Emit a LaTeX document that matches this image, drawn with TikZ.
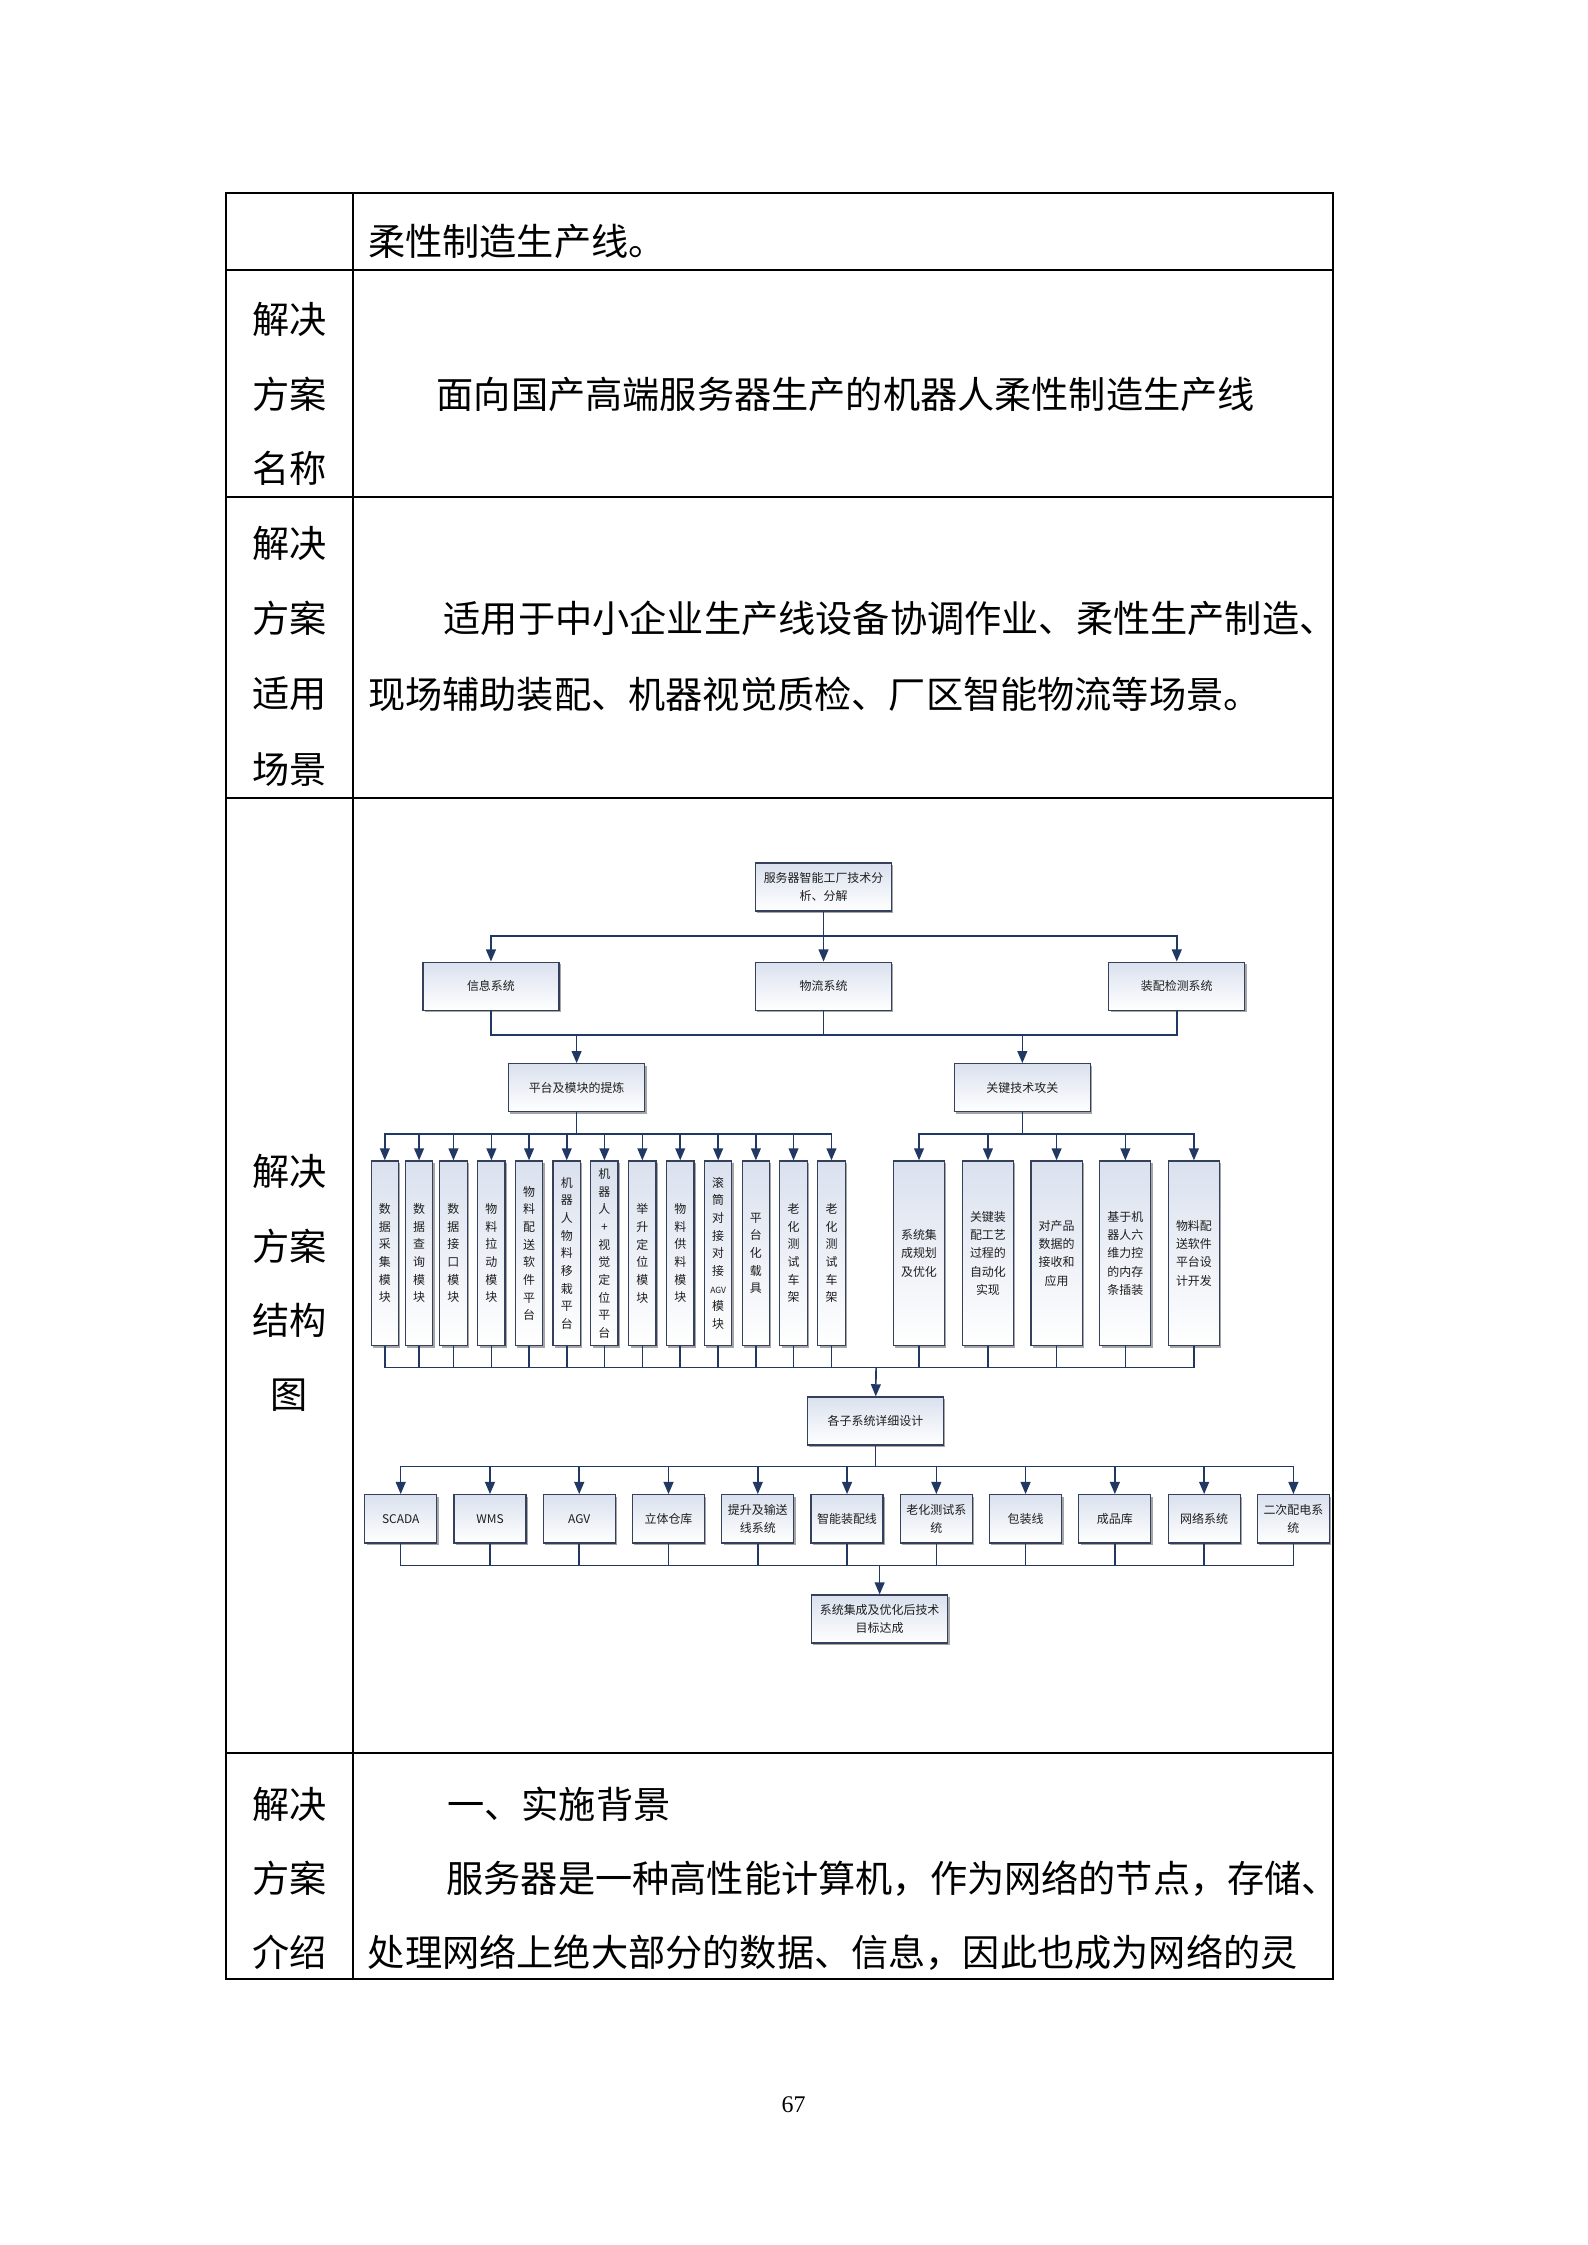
\documentclass[tikz,border=0pt]{standalone}
\usepackage{fontspec}
\setmainfont{Noto Sans CJK SC}
\newfontfamily\pagefont{Liberation Serif}
\usetikzlibrary{arrows.meta, positioning, shadows}
\definecolor{boxline}{RGB}{52,64,92}
\definecolor{boxtop}{RGB}{218,225,238}
\definecolor{linkblue}{RGB}{34,56,100}
\definecolor{chartgray}{RGB}{30,30,30}
% spaced CJK line: extra gap between ideographs
\newcommand{\spreadline}[2]{{\XeTeXinterchartokenstate=1
  \XeTeXinterchartoks 1 1 = {\hskip #1\relax}#2}}

\begin{document}
\begin{tikzpicture}[x=1mm, y=-1mm,
  rule/.style={line width=0.6pt},
  cell/.style={font=\fontsize{14}{16}\selectfont, inner sep=0pt, anchor=west},
  lab/.style={font=\fontsize{14}{16}\selectfont, inner sep=0pt},
  box/.style={draw=boxline, line width=0.45pt, top color=boxtop, bottom color=white,
    drop shadow={shadow xshift=0.25mm, shadow yshift=-0.25mm, fill=black!35, opacity=1},
    font=\fontsize{4.5}{6.9}\selectfont, text=chartgray, align=center, inner sep=0pt,
    minimum width=18mm, minimum height=6.35mm},
  tallbox/.style={box, font=\fontsize{4.5}{6.65}\selectfont, minimum width=3.62mm, minimum height=24.43mm},
  widebox/.style={box, minimum width=6.75mm, minimum height=24.43mm},
  sysbox/.style={box, minimum width=9.53mm, minimum height=6.39mm},
  conn/.style={draw=linkblue, line width=0.6pt},
  arr/.style={conn, -{Triangle[length=1.6mm, width=1.3mm]}}]
  \useasboundingbox (0,0) rectangle (210,297);

  % Table frame
  \draw[rule] (29.88,25.5) rectangle (176.36,261.8);
  \draw[rule] (46.72,25.5) -- (46.72,261.8);
  \draw[rule] (29.88,35.74) -- (176.36,35.74);
  \draw[rule] (29.88,65.73) -- (176.36,65.73);
  \draw[rule] (29.88,105.58) -- (176.36,105.58);
  \draw[rule] (29.88,231.9) -- (176.36,231.9);

  % Table text
  \node[cell] (line0) at (48.63,31.9) {柔性制造生产线。};
  \node[lab] (nameA) at (38.3,42.2) {解决};
  \node[lab] (nameB) at (38.3,52.2) {方案};
  \node[lab] (nameC) at (38.3,61.9) {名称};
  \node[cell] (name) at (57.7,52.2) {\spreadline{0.44mm}{面向国产高端服务器生产的机器人柔性制造生产线}};
  \node[lab] (useA) at (38.3,71.87) {解决};
  \node[lab] (useB) at (38.3,81.84) {方案};
  \node[lab] (useC) at (38.3,91.82) {适用};
  \node[lab] (useD) at (38.3,101.8) {场景};
  \node[cell] (use1) at (58.64,81.84) {适用于中小企业生产线设备协调作业、柔性生产制造、};
  \node[cell] (use2) at (48.63,91.82) {现场辅助装配、机器视觉质检、厂区智能物流等场景。};
  \node[lab] (chartA) at (38.3,155.0) {解决};
  \node[lab] (chartB) at (38.3,164.9) {方案};
  \node[lab] (chartC) at (38.3,174.7) {结构};
  \node[lab] (chartD) at (38.3,184.6) {图};
  \node[lab] (introA) at (38.3,238.7) {解决};
  \node[lab] (introB) at (38.3,248.5) {方案};
  \node[lab] (introC) at (38.3,258.3) {介绍};
  \node[cell] (intro0) at (59.1,238.7) {一、实施背景};
  \node[cell] (intro1) at (59.0,248.5) {服务器是一种高性能计算机，作为网络的节点，存储、};
  \node[cell] (intro2) at (48.6,258.3) {处理网络上绝大部分的数据、信息，因此也成为网络的灵};
  \node[font=\pagefont\fontsize{9}{11}\selectfont] (page) at (105,278.4) {67};

  % Upper levels
  \node[box] (root) at (108.95,117.35) {服务器智能工厂技术分\\析、分解};
  \node[box] (info) at (64.95,130.46) {信息系统};
  \node[box] (logi) at (108.95,130.46) {物流系统};
  \node[box] (assy) at (155.68,130.46) {装配检测系统};
  \node[box] (plat) at (76.28,143.9) {平台及模块的提炼};
  \node[box] (key) at (135.25,143.9) {关键技术攻关};

  % Modules
  \node[tallbox] (m1) at (50.91,165.8) {数\\据\\采\\集\\模\\块};
  \node[tallbox] (m2) at (55.44,165.8) {数\\据\\查\\询\\模\\块};
  \node[tallbox] (m3) at (59.99,165.8) {数\\据\\接\\口\\模\\块};
  \node[tallbox] (m4) at (65.01,165.8) {物\\料\\拉\\动\\模\\块};
  \node[tallbox] (m5) at (69.99,165.8) {物\\料\\配\\送\\软\\件\\平\\台};
  \node[tallbox] (m6) at (74.98,165.8) {机\\器\\人\\物\\料\\移\\栽\\平\\台};
  \node[tallbox] (m7) at (79.96,165.8) {机\\器\\人\\+\\视\\觉\\定\\位\\平\\台};
  \node[tallbox] (m8) at (84.98,165.8) {举\\升\\定\\位\\模\\块};
  \node[tallbox] (m9) at (89.99,165.8) {物\\料\\供\\料\\模\\块};
  \node[tallbox] (m10) at (95.01,165.8) {滚\\筒\\对\\接\\对\\接\\{\fontsize{3.2}{4}\selectfont AGV}\\模\\块};
  \node[tallbox] (m11) at (100.0,165.8) {平\\台\\化\\载\\具};
  \node[tallbox] (m12) at (104.98,165.8) {老\\化\\测\\试\\车\\架};
  \node[tallbox] (m13) at (110.0,165.8) {老\\化\\测\\试\\车\\架};

  % Key techniques
  \node[widebox] (k1) at (121.58,165.8) {系统集\\成规划\\及优化};
  \node[widebox] (k2) at (130.70,165.8) {关键装\\配工艺\\过程的\\自动化\\实现};
  \node[widebox] (k3) at (139.78,165.8) {对产品\\数据的\\接收和\\应用};
  \node[widebox] (k4) at (148.88,165.8) {基于机\\器人六\\维力控\\的内存\\条插装};
  \node[widebox] (k5) at (157.95,165.8) {物料配\\送软件\\平台设\\计开发};

  % Subsystems
  \node[box] (sub) at (115.82,187.98) {各子系统详细设计};
  \node[sysbox] (s1) at (53.01,200.93) {SCADA};
  \node[sysbox] (s2) at (64.82,200.93) {WMS};
  \node[sysbox] (s3) at (76.63,200.93) {AGV};
  \node[sysbox] (s4) at (88.44,200.93) {立体仓库};
  \node[sysbox] (s5) at (100.25,200.93) {提升及输送\\线系统};
  \node[sysbox] (s6) at (112.06,200.93) {智能装配线};
  \node[sysbox] (s7) at (123.87,200.93) {老化测试系\\统};
  \node[sysbox] (s8) at (135.68,200.93) {包装线};
  \node[sysbox] (s9) at (147.49,200.93) {成品库};
  \node[sysbox] (s10) at (159.30,200.93) {网络系统};
  \node[sysbox] (s11) at (171.11,200.93) {二次配电系\\统};
  \node[box] (goal) at (116.37,214.19) {系统集成及优化后技术\\目标达成};

  % Bus points
  \coordinate (bus1) at (108.95,123.8);
  \coordinate (bus2) at (108.95,136.9);
  \coordinate (bus3a) at (76.28,150.0);
  \coordinate (bus3b) at (135.25,150.0);
  \coordinate (bus4) at (115.9,180.92);
  \coordinate (bus5) at (115.82,194.0);
  \coordinate (bus6) at (116.37,207.12);

  % Connectors
  \draw[conn] (root) -- (bus1);
  \draw[arr] (bus1) -| (info);
  \draw[arr] (bus1) -- (logi);
  \draw[arr] (bus1) -| (assy);
  \draw[conn] (info) |- (bus2) -| (assy);
  \draw[conn] (logi) -- (bus2);
  \draw[arr] (plat.north |- bus2) -- (plat);
  \draw[arr] (key.north |- bus2) -- (key);

  \draw[conn] (plat) -- (bus3a);
  \draw[arr] (bus3a) -| (m1);
  \draw[arr] (bus3a) -| (m2);
  \draw[arr] (bus3a) -| (m3);
  \draw[arr] (bus3a) -| (m4);
  \draw[arr] (bus3a) -| (m5);
  \draw[arr] (bus3a) -| (m6);
  \draw[arr] (bus3a) -| (m7);
  \draw[arr] (bus3a) -| (m8);
  \draw[arr] (bus3a) -| (m9);
  \draw[arr] (bus3a) -| (m10);
  \draw[arr] (bus3a) -| (m11);
  \draw[arr] (bus3a) -| (m12);
  \draw[arr] (bus3a) -| (m13);
  \draw[conn] (key) -- (bus3b);
  \draw[arr] (bus3b) -| (k1);
  \draw[arr] (bus3b) -| (k2);
  \draw[arr] (bus3b) -| (k3);
  \draw[arr] (bus3b) -| (k4);
  \draw[arr] (bus3b) -| (k5);

  \draw[conn] (m1) |- (bus4);
  \draw[conn] (m2) |- (bus4);
  \draw[conn] (m3) |- (bus4);
  \draw[conn] (m4) |- (bus4);
  \draw[conn] (m5) |- (bus4);
  \draw[conn] (m6) |- (bus4);
  \draw[conn] (m7) |- (bus4);
  \draw[conn] (m8) |- (bus4);
  \draw[conn] (m9) |- (bus4);
  \draw[conn] (m10) |- (bus4);
  \draw[conn] (m11) |- (bus4);
  \draw[conn] (m12) |- (bus4);
  \draw[conn] (m13) |- (bus4);
  \draw[conn] (k1) |- (bus4);
  \draw[conn] (k2) |- (bus4);
  \draw[conn] (k3) |- (bus4);
  \draw[conn] (k4) |- (bus4);
  \draw[conn] (k5) |- (bus4);
  \draw[arr] (bus4) -- (sub);

  \draw[conn] (sub) -- (bus5);
  \draw[arr] (bus5) -| (s1);
  \draw[arr] (bus5) -| (s2);
  \draw[arr] (bus5) -| (s3);
  \draw[arr] (bus5) -| (s4);
  \draw[arr] (bus5) -| (s5);
  \draw[arr] (bus5) -| (s6);
  \draw[arr] (bus5) -| (s7);
  \draw[arr] (bus5) -| (s8);
  \draw[arr] (bus5) -| (s9);
  \draw[arr] (bus5) -| (s10);
  \draw[arr] (bus5) -| (s11);
  \draw[conn] (s1) |- (bus6);
  \draw[conn] (s2) |- (bus6);
  \draw[conn] (s3) |- (bus6);
  \draw[conn] (s4) |- (bus6);
  \draw[conn] (s5) |- (bus6);
  \draw[conn] (s6) |- (bus6);
  \draw[conn] (s7) |- (bus6);
  \draw[conn] (s8) |- (bus6);
  \draw[conn] (s9) |- (bus6);
  \draw[conn] (s10) |- (bus6);
  \draw[conn] (s11) |- (bus6);
  \draw[arr] (bus6) -- (goal);
\end{tikzpicture}
\end{document}
